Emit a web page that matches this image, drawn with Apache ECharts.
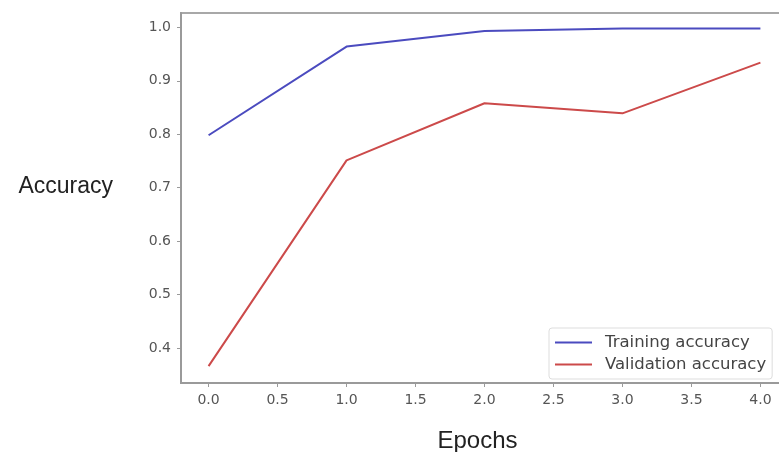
<!DOCTYPE html>
<html>
<head>
<meta charset="utf-8">
<script src="https://cdn.jsdelivr.net/npm/echarts@6/dist/echarts.min.js"></script>
<style>
  html, body { margin: 0; padding: 0; background: #fff; }
  #chart { width: 779px; height: 452px; }
</style>
</head>
<body>
<div id="chart"></div>
<script>
// Accuracy per epoch for training and validation
const epochs = [0, 1, 2, 3, 4];
const trainingAccuracy = [0.798, 0.964, 0.993, 0.998, 0.998];
const validationAccuracy = [0.366, 0.751, 0.858, 0.839, 0.934];

// Tick positions shown on each axis
const xTicks = [0, 0.5, 1, 1.5, 2, 2.5, 3, 3.5, 4];
const yTicks = [0.4, 0.5, 0.6, 0.7, 0.8, 0.9, 1.0];

const seriesNames = ['Training accuracy', 'Validation accuracy'];

const axisGrey = '#9a9a9a';
const tickFont = { fontFamily: 'DejaVu Sans', fontSize: 14, color: '#555' };

const chart = echarts.init(document.getElementById('chart'), null, { renderer: 'canvas' });

chart.setOption({
  animation: false,
  backgroundColor: '#ffffff',
  grid: {
    left: 181, top: 13, width: 607, height: 370,
    outerBoundsMode: 'none',
    containLabel: false,
    show: true, borderColor: '#a8a8a8', borderWidth: 2, backgroundColor: 'transparent'
  },
  legend: {
    orient: 'vertical',
    left: 549, top: 328,
    data: seriesNames,
    icon: 'rect',
    itemWidth: 37, itemHeight: 2, itemGap: 5,
    padding: [6, 6, 6, 6],
    backgroundColor: '#ffffff',
    borderColor: '#dddddd', borderWidth: 1, borderRadius: 3,
    textStyle: { fontFamily: 'DejaVu Sans', fontSize: 16.5, color: '#444', lineHeight: 16, padding: [0, 0, 0, 8] }
  },
  xAxis: {
    type: 'value',
    min: -0.2, max: 4.2,
    name: 'Epochs',
    nameLocation: 'middle',
    nameGap: 46,
    nameTextStyle: { fontFamily: 'Liberation Sans', fontSize: 24, color: '#222', padding: [0, 14, 0, 0] },
    axisLine: { show: true, onZero: false, lineStyle: { color: axisGrey, width: 2 } },
    axisTick: { show: true, length: 4, lineStyle: { color: axisGrey, width: 1 }, customValues: xTicks },
    axisLabel: Object.assign({ margin: 10, customValues: xTicks, formatter: v => v.toFixed(1) }, tickFont),
    splitLine: { show: false }
  },
  yAxis: {
    type: 'value',
    min: 0.3345, max: 1.0268,
    name: 'Accuracy',
    nameLocation: 'middle',
    nameRotate: 0,
    nameGap: 68,
    nameTextStyle: { fontFamily: 'Liberation Sans', fontSize: 23, color: '#222', align: 'right', verticalAlign: 'bottom' },
    axisLine: { show: true, onZero: false, lineStyle: { color: axisGrey, width: 2 } },
    axisTick: { show: true, length: 4, lineStyle: { color: axisGrey, width: 1 }, customValues: yTicks },
    axisLabel: Object.assign({ margin: 10, customValues: yTicks, formatter: v => v.toFixed(1) }, tickFont),
    splitLine: { show: false }
  },
  series: [
    {
      name: seriesNames[0],
      type: 'line',
      data: epochs.map((e, i) => [e, trainingAccuracy[i]]),
      showSymbol: false,
      lineStyle: { color: '#4b4bbf', width: 2 },
      itemStyle: { color: '#4b4bbf' }
    },
    {
      name: seriesNames[1],
      type: 'line',
      data: epochs.map((e, i) => [e, validationAccuracy[i]]),
      showSymbol: false,
      lineStyle: { color: '#cc4a4a', width: 2 },
      itemStyle: { color: '#cc4a4a' }
    }
  ]
});
</script>
</body>
</html>
